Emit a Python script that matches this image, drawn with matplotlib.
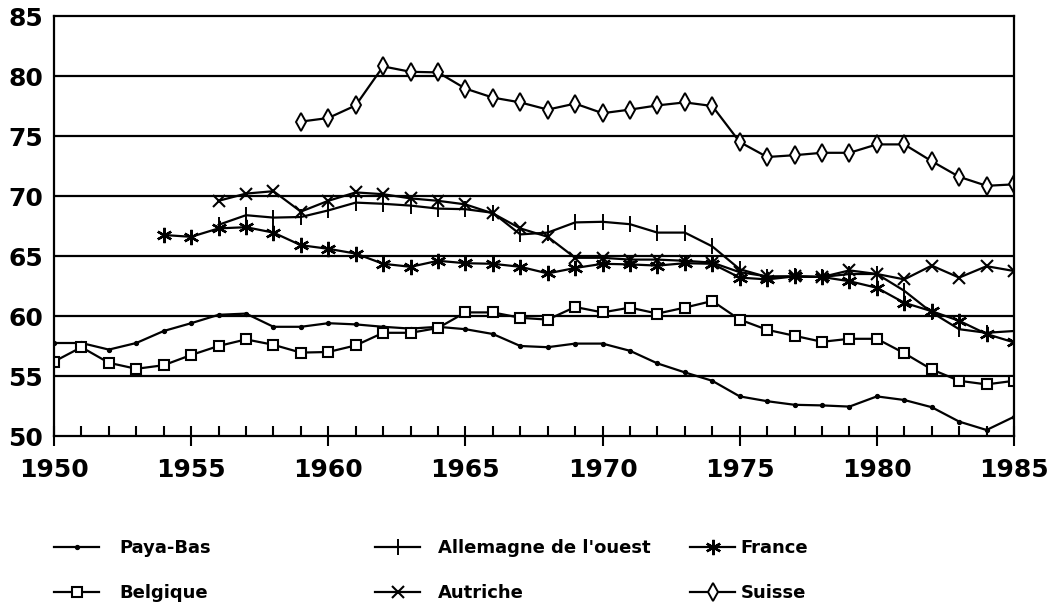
#!/usr/bin/env python3
"""
Taux d'activite 1950-1985 : six pays europeens.

Redraws the old black-and-white line chart with matplotlib and saves out.png.
"""

import numpy as np
import matplotlib
matplotlib.use("Agg")
import matplotlib.pyplot as plt

NA = np.nan

# --- data ------------------------------------------------------------------
years = list(range(1950, 1986))

paya_bas = [57.75, 57.75, 57.2, 57.75, 58.75, 59.4, 60.1, 60.2, 59.1, 59.1,
            59.4, 59.3, 59.1, 58.95, 59.1, 58.9, 58.5, 57.5, 57.4, 57.7,
            57.7, 57.1, 56.05, 55.3, 54.6, 53.3, 52.9, 52.6, 52.55, 52.45,
            53.3, 53.0, 52.4, 51.2, 50.5, 51.6]

belgique = [56.2, 57.4, 56.1, 55.6, 55.9, 56.75, 57.5, 58.05, 57.6, 56.95,
            57.0, 57.55, 58.6, 58.6, 59.0, 60.3, 60.3, 59.85, 59.7, 60.75,
            60.3, 60.7, 60.2, 60.7, 61.25, 59.7, 58.85, 58.35, 57.85, 58.1,
            58.1, 56.9, 55.55, 54.6, 54.3, 54.6]

allemagne = [NA, NA, NA, NA, NA, NA, 67.6, 68.4, 68.2, 68.25,
             68.8, 69.45, 69.35, 69.2, 68.95, 68.9, 68.6, 66.8, 66.95, 67.8,
             67.85, 67.65, 66.95, 66.95, 65.8, 63.9, 63.25, 63.3, 63.25, 63.5,
             63.5, 62.1, 60.3, 58.9, 58.6, 58.75]

autriche = [NA, NA, NA, NA, NA, NA, 69.6, 70.2, 70.4, 68.7,
            69.6, 70.3, 70.15, 69.8, 69.6, 69.3, 68.55, 67.3, 66.6, 64.85,
            64.85, 64.7, 64.7, 64.6, 64.45, 63.65, 63.3, 63.3, 63.25, 63.8,
            63.5, 63.05, 64.2, 63.2, 64.15, 63.75]

france = [NA, NA, NA, NA, 66.75, 66.6, 67.3, 67.4, 66.95, 65.9,
          65.6, 65.2, 64.35, 64.1, 64.6, 64.4, 64.35, 64.1, 63.55, 64.0,
          64.35, 64.3, 64.2, 64.4, 64.35, 63.2, 63.05, 63.3, 63.25, 62.9,
          62.35, 61.1, 60.4, 59.6, 58.5, 57.8]

suisse = [NA, NA, NA, NA, NA, NA, NA, NA, NA, 76.2,
          76.5, 77.55, 80.8, 80.35, 80.3, 78.95, 78.2, 77.8, 77.2, 77.7,
          76.9, 77.2, 77.55, 77.8, 77.5, 74.5, 73.25, 73.4, 73.6, 73.6,
          74.3, 74.3, 72.9, 71.6, 70.85, 70.97]

grid_levels = [55, 60, 65, 70, 75, 80]
y_ticks = [50, 55, 60, 65, 70, 75, 80, 85]
x_ticks = [1950, 1955, 1960, 1965, 1970, 1975, 1980, 1985]

FONT = "DejaVu Sans"


def draw_series(ax):
    """Plot the six country lines, return the handles by name."""
    lw = 1.6
    h = {}
    h["Paya-Bas"], = ax.plot(years, paya_bas, color="black", lw=lw,
                             marker="o", ms=2.8, label="Paya-Bas")
    h["Belgique"], = ax.plot(years, belgique, color="black", lw=lw,
                             marker="s", ms=7.5, mfc="white", mew=1.5,
                             label="Belgique")
    h["Allemagne"], = ax.plot(years, allemagne, color="black", lw=lw,
                              marker="|", ms=12, mew=1.4,
                              label="Allemagne de l'ouest")
    h["Autriche"], = ax.plot(years, autriche, color="black", lw=lw,
                             marker="x", ms=8.5, mew=1.5, label="Autriche")
    h["France"], = ax.plot(years, france, color="black", lw=lw,
                           marker=(6, 2, 0), ms=11, mew=1.7, label="France")
    h["Suisse"], = ax.plot(years, suisse, color="black", lw=lw,
                           marker="d", ms=9, mfc="white", mew=1.4,
                           label="Suisse")
    return h


def style_axes(ax):
    ax.set_xlim(1950, 1985)
    ax.set_ylim(50, 85)

    for lvl in grid_levels:
        ax.axhline(lvl, color="black", lw=1.6, zorder=0)

    for side in ["left", "right", "top", "bottom"]:
        ax.spines[side].set_linewidth(1.6)

    ax.set_xticks(x_ticks)
    ax.set_xticks(years, minor=True)
    ax.set_yticks(y_ticks)
    ax.tick_params(axis="x", which="major", direction="inout", length=15,
                   width=1.5, pad=8, labelsize=18)
    ax.tick_params(axis="x", which="minor", direction="in", length=7,
                   width=1.5)
    ax.tick_params(axis="y", length=0, pad=8, labelsize=18)
    for lab in ax.get_xticklabels() + ax.get_yticklabels():
        lab.set_fontweight("bold")
        lab.set_family(FONT)


def add_legend(fig, h):
    """Three legend columns, placed separately like the original."""
    common = dict(frameon=False, loc="upper left", borderpad=0,
                  borderaxespad=0, handlelength=2.5, labelspacing=1.5,
                  prop={"family": FONT, "weight": "bold", "size": 13})
    columns = [
        ([h["Paya-Bas"], h["Belgique"]], 54, 1.1),
        ([h["Allemagne"], h["Autriche"]], 375, 1.0),
        ([h["France"], h["Suisse"]], 690, 0.3),
    ]
    for handles, x0, pad in columns:
        fig.legend(handles=handles,
                   labels=[hh.get_label() for hh in handles],
                   bbox_to_anchor=(x0 / 1064, 1 - 539 / 605),
                   handletextpad=pad, **common)


def main():
    fig = plt.figure(figsize=(10.64, 6.05), dpi=100)
    ax = fig.add_axes([54 / 1064, 1 - 436 / 605, 960 / 1064, 420 / 605])
    h = draw_series(ax)
    style_axes(ax)
    add_legend(fig, h)
    fig.savefig("out.png", dpi=100)
    print("saved out.png")


if __name__ == "__main__":
    main()
